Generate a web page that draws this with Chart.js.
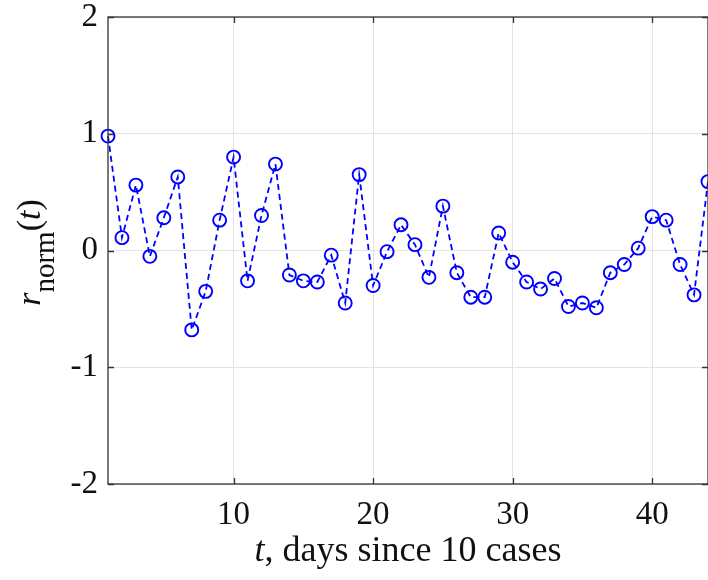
<!DOCTYPE html>
<html>
<head>
<meta charset="utf-8">
<title>r_norm(t)</title>
<script src="https://cdn.jsdelivr.net/npm/chart.js@4.4.1/dist/chart.umd.min.js"></script>
<style>
    html, body { margin: 0; padding: 0; background: #fff; overflow: hidden; }
    #wrap { width: 708px; height: 580px; position: relative; }
</style>
</head>
<body>
<div id="wrap"><canvas id="rnormChart"></canvas></div>
<script>
// days since 10 cases
const days = [1, 2, 3, 4, 5, 6, 7, 8, 9, 10, 11, 12, 13, 14, 15, 16, 17, 18, 19, 20, 21, 22,
              23, 24, 25, 26, 27, 28, 29, 30, 31, 32, 33, 34, 35, 36, 37, 38, 39, 40, 41, 42, 43, 44];
// normalised growth rate per day
const rNorm = [0.98, 0.11, 0.56, -0.05, 0.28, 0.63, -0.68, -0.35, 0.26, 0.80, -0.26,
               0.30, 0.74, -0.21, -0.26, -0.27, -0.04, -0.45, 0.65, -0.30, -0.01, 0.22,
               0.05, -0.23, 0.38, -0.19, -0.40, -0.40, 0.15, -0.10, -0.27, -0.33, -0.24,
               -0.48, -0.45, -0.49, -0.19, -0.12, 0.02, 0.29, 0.26, -0.12, -0.38, 0.59];
const xTicks = [10, 20, 30, 40];
const yTicks = [-2, -1, 0, 1, 2];

const serif = "'Liberation Serif', 'Times New Roman', serif";
const axisColor = '#333333';
const lineBlue = '#0000ff';

// box around the plot with short inward tick marks
const boxPlugin = {
    id: 'boxTicks',
    afterDraw(chart) {
        const { ctx, chartArea: a, scales } = chart;
        const len = 6;
        ctx.save();
        ctx.strokeStyle = axisColor;
        ctx.lineWidth = 1.3;
        ctx.strokeRect(a.left, a.top, a.right - a.left, a.bottom - a.top);
        ctx.beginPath();
        xTicks.forEach(v => {
            const px = Math.round(scales.x.getPixelForValue(v)) + 0.5;
            ctx.moveTo(px, a.bottom); ctx.lineTo(px, a.bottom - len);
            ctx.moveTo(px, a.top); ctx.lineTo(px, a.top + len);
        });
        yTicks.forEach(v => {
            const py = Math.round(scales.y.getPixelForValue(v)) + 0.5;
            ctx.moveTo(a.left, py); ctx.lineTo(a.left + len, py);
            ctx.moveTo(a.right, py); ctx.lineTo(a.right - len, py);
        });
        ctx.stroke();
        ctx.restore();
    }
};

// draws a run of differently styled pieces centred on (0, 0) along the baseline
function drawRuns(ctx, parts) {
    let total = 0;
    parts.forEach(p => { ctx.font = p.font; p.w = ctx.measureText(p.t).width; total += p.w; });
    let x = -total / 2;
    parts.forEach(p => {
        ctx.font = p.font;
        ctx.fillText(p.t, x, p.dy || 0);
        x += p.w;
    });
}

// axis titles: r_norm(t) with a lowered subscript, and the italic t on the x axis
const titlesPlugin = {
    id: 'axisTitles',
    afterDraw(chart) {
        const { ctx, chartArea: a } = chart;
        ctx.save();
        ctx.fillStyle = '#111';
        ctx.textBaseline = 'alphabetic';
        ctx.textAlign = 'left';

        ctx.save();
        ctx.translate(40, (a.top + a.bottom) / 2 + 2);
        ctx.rotate(-Math.PI / 2);
        drawRuns(ctx, [
            { t: 'r', font: `italic 34px ${serif}` },
            { t: 'norm', font: `29px ${serif}`, dy: 14 },
            { t: '(', font: `34px ${serif}` },
            { t: 't', font: `italic 34px ${serif}` },
            { t: ')', font: `34px ${serif}` }
        ]);
        ctx.restore();

        ctx.save();
        ctx.translate((a.left + 708) / 2, 561);
        drawRuns(ctx, [
            { t: 't', font: `italic 36px ${serif}` },
            { t: ', days since 10 cases', font: `36px ${serif}` }
        ]);
        ctx.restore();
        ctx.restore();
    }
};

// drop the label overhang padding so the plot box sits where the layout puts it
const noOverhang = s => {
    s.paddingTop = 0; s.paddingBottom = 0; s.paddingLeft = 0; s.paddingRight = 0;
};

document.addEventListener('DOMContentLoaded', () => {
    const ctx = document.getElementById('rnormChart').getContext('2d');
    Chart.defaults.font.family = serif;
    Chart.defaults.color = '#111';

    new Chart(ctx, {
        type: 'line',
        data: {
            datasets: [{
                data: days.map((d, i) => ({ x: d, y: rNorm[i] })),
                borderColor: lineBlue,
                borderWidth: 1.8,
                borderDash: [6, 4],
                pointStyle: 'circle',
                pointRadius: 6.5,
                pointBorderWidth: 1.9,
                pointBorderColor: lineBlue,
                pointBackgroundColor: 'rgba(0,0,0,0)',
                tension: 0,
                clip: false
            }]
        },
        options: {
            responsive: true,
            maintainAspectRatio: false,
            animation: false,
            events: [],
            layout: { autoPadding: false, padding: { left: 0, right: -2, top: 17, bottom: 0 } },
            plugins: { legend: { display: false }, tooltip: { enabled: false } },
            scales: {
                x: {
                    type: 'linear',
                    min: 1,
                    max: 44,
                    afterBuildTicks: s => { s.ticks = xTicks.map(v => ({ value: v })); },
                    afterFit: s => { s.height = 96; noOverhang(s); },
                    grid: { color: '#e3e3e3', lineWidth: 1, drawTicks: false },
                    border: { display: false },
                    ticks: { font: { size: 33 }, padding: 12, maxRotation: 0, color: '#111' }
                },
                y: {
                    min: -2,
                    max: 2,
                    afterBuildTicks: s => { s.ticks = yTicks.map(v => ({ value: v })); },
                    afterFit: s => { s.width = 108; noOverhang(s); },
                    grid: { color: '#e3e3e3', lineWidth: 1, drawTicks: false },
                    border: { display: false },
                    ticks: { font: { size: 33 }, padding: 10, color: '#111' }
                }
            }
        },
        plugins: [boxPlugin, titlesPlugin]
    });
});
</script>
</body>
</html>
